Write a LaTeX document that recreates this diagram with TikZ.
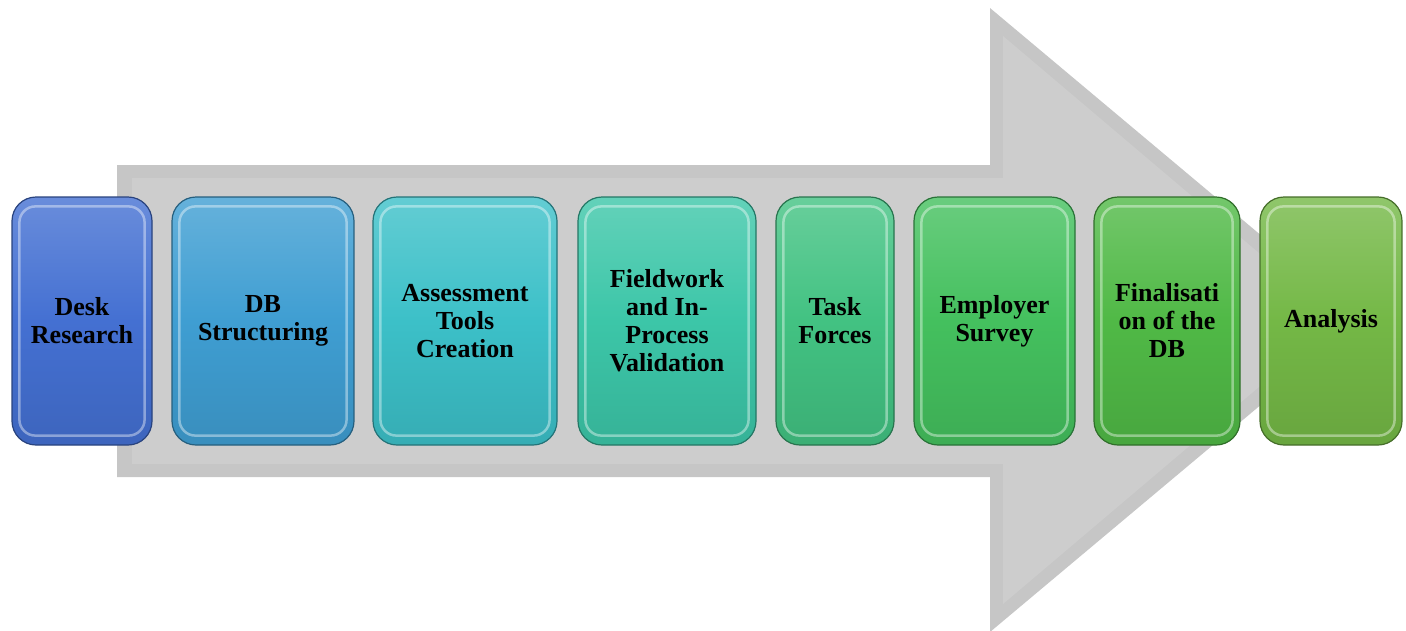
\documentclass[tikz,border=0pt]{standalone}
\usepackage{fontspec}
\setmainfont{Liberation Serif}
\begin{document}
\begin{tikzpicture}[x=1pt,y=-1pt,
  stepbox/.style={draw=#1!60!black, line width=1.2pt, rounded corners=24pt,
    top color=#1!80!white, bottom color=#1!90!black, middle color=#1,
    align=center, font=\fontsize{26}{28}\selectfont\bfseries, text=black,
    minimum height=248pt, inner sep=0pt},
  glint/.style={draw=white, opacity=0.4, line width=2.5pt, rounded corners=16pt}]
\useasboundingbox (0,0) rectangle (1406,630);
\definecolor{c1}{HTML}{4470D2}
\definecolor{c2}{HTML}{3F9ED2}
\definecolor{c3}{HTML}{3CC0C8}
\definecolor{c4}{HTML}{3CC6A8}
\definecolor{c5}{HTML}{42C282}
\definecolor{c6}{HTML}{44C05E}
\definecolor{c7}{HTML}{50B946}
\definecolor{c8}{HTML}{74B846}
\definecolor{arrowgray}{HTML}{C6C6C6}
\definecolor{arrowlight}{HTML}{CDCDCD}
% big arrow
\fill[arrowgray] (117,165) -- (990,165) -- (990,8) -- (1362,320) -- (990,632) -- (990,477) -- (117,477) -- cycle;
\fill[arrowlight] (132,178) -- (1003,178) -- (1003,36) -- (1338,320) -- (1003,604) -- (1003,464) -- (132,464) -- cycle;
% boxes
\node[stepbox=c1, minimum width=140pt] (b1) at (82,321) {Desk\\Research};
\node[stepbox=c2, minimum width=182pt] (b2) at (263,321) {DB\\Structuring};
\node[stepbox=c3, minimum width=184pt] (b3) at (465,321) {Assessment\\Tools\\Creation};
\node[stepbox=c4, minimum width=178pt] (b4) at (667,321) {Fieldwork\\and In-\\Process\\Validation};
\node[stepbox=c5, minimum width=118pt] (b5) at (835,321) {Task\\Forces};
\node[stepbox=c6, minimum width=161pt] (b6) at (994.5,321) {Employer\\Survey};
\node[stepbox=c7, minimum width=146pt] (b7) at (1167,321) {Finalisati\\on of the\\DB};
\node[stepbox=c8, minimum width=142pt] (b8) at (1331,321) {Analysis};
% highlights
\foreach \n in {b1,b2,b3,b4,b5,b6,b7,b8}{
  \draw[glint] ([xshift=8pt,yshift=-10pt]\n.north west) rectangle ([xshift=-8pt,yshift=10pt]\n.south east);
}
\end{tikzpicture}
\end{document}
